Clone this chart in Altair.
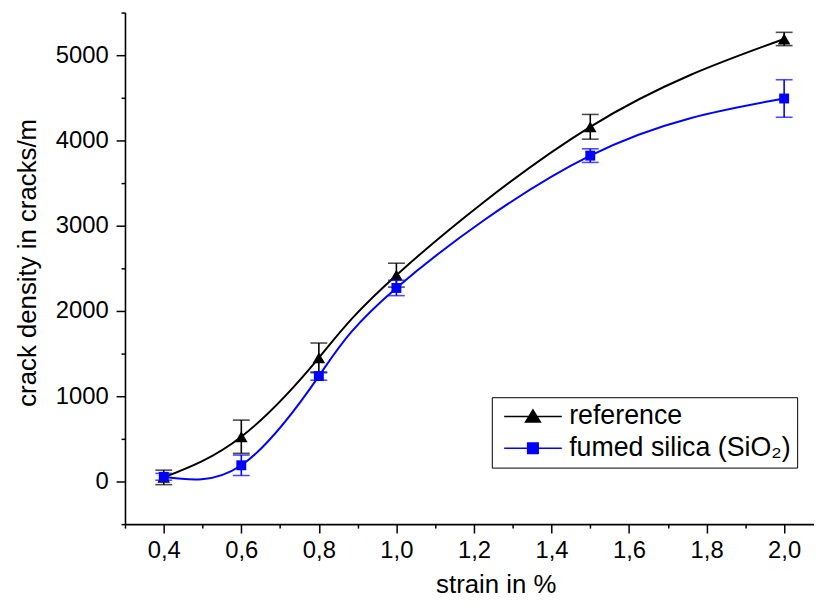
import altair as alt
import pandas as pd

# ---- data ----
strain = [0.4, 0.6, 0.8, 1.0, 1.5, 2.0]
reference = [48, 525, 1450, 2420, 4160, 5190]
reference_err = [85, 195, 174, 140, 145, 78]
silica = [55, 190, 1236, 2270, 3822, 4492]
silica_err = [40, 120, 48, 90, 80, 220]

series_names = ["reference", "fumed silica (SiO₂)"]
series_colors = ["#000000", "#0000ff"]
series_shapes = ["triangle-up", "square"]
series_sizes = [160, 100]

x_major = [0.4, 0.6, 0.8, 1.0, 1.2, 1.4, 1.6, 1.8, 2.0]
x_minor = [0.3, 0.5, 0.7, 0.9, 1.1, 1.3, 1.5, 1.7, 1.9]
y_major = [0, 1000, 2000, 3000, 4000, 5000]
y_minor = [-500, 500, 1500, 2500, 3500, 4500, 5500]

# legend symbols: a line with the marker on it
legend_paths = [
    "M-1,0H7.3M2.07,0.8L3.14,-0.95L4.21,0.8Z",
    "M-1,0H7.3M2.38,-0.76H3.9V0.76H2.38Z",
]

rows = []
for name, vals, errs in [(series_names[0], reference, reference_err),
                         (series_names[1], silica, silica_err)]:
    for s, v, e in zip(strain, vals, errs):
        rows.append({"strain": s, "value": v, "lo": v - e, "hi": v + e, "series": name})
df = pd.DataFrame(rows)

FONT = "Liberation Sans"
x_scale = alt.Scale(domain=[0.3, 2.077], nice=False, zero=False)
y_scale = alt.Scale(domain=[-500, 5500], nice=False, zero=False)

x_axis_main = alt.Axis(values=x_major, format=".1f",
                       labelExpr="replace(datum.label, '.', ',')",
                       tickSize=9, labelPadding=6, title="strain in %",
                       titlePadding=9, titleX=374, orient="bottom", labelFlush=False)
y_axis_main = alt.Axis(values=y_major, format="d", tickSize=9, labelPadding=8,
                       title="crack density in cracks/m", titlePadding=15,
                       titleY=252, orient="left", labelFlush=False)
x_axis_minor = alt.Axis(values=x_minor, labels=False, tickSize=4, domain=False,
                        title=None, orient="bottom")
y_axis_minor = alt.Axis(values=y_minor, labels=False, tickSize=4, domain=False,
                        title=None, orient="left")

layers = []
for i, name in enumerate(series_names):
    d = df[df["series"] == name]
    c = series_colors[i]
    first = i == 0
    line = alt.Chart(d).mark_line(interpolate="natural", color=c, strokeWidth=2).encode(
        x=alt.X("strain:Q", scale=x_scale, axis=x_axis_main if first else None),
        y=alt.Y("value:Q", scale=y_scale, axis=y_axis_main if first else None),
    )
    err = alt.Chart(d).mark_errorbar(ticks=True, size=17, thickness=1.6, color=c).encode(
        x=alt.X("strain:Q", scale=x_scale, axis=None),
        y=alt.Y("lo:Q", scale=y_scale, axis=None),
        y2="hi:Q",
    )
    pts = alt.Chart(d).mark_point(filled=True, opacity=1, color=c,
                                  shape=series_shapes[i], size=series_sizes[i]).encode(
        x=alt.X("strain:Q", scale=x_scale, axis=None),
        y=alt.Y("value:Q", scale=y_scale, axis=None),
    )
    layers += [line, err, pts]

legend = alt.Legend(orient="none", legendX=370, legendY=388, title=None,
                    strokeColor="black", fillColor="white", padding=6,
                    labelFont=FONT, labelFontSize=27, labelColor="black",
                    labelOffset=45, symbolSize=196, symbolStrokeWidth=1.5,
                    symbolOpacity=1, rowPadding=4, labelLimit=400)

legend_layer = alt.Chart(df).mark_point(filled=True, opacity=0).encode(
    x=alt.X("strain:Q", scale=x_scale, axis=x_axis_minor),
    y=alt.Y("value:Q", scale=y_scale, axis=y_axis_minor),
    fill=alt.Fill("series:N", scale=alt.Scale(domain=series_names, range=series_colors), legend=legend),
    stroke=alt.Stroke("series:N", scale=alt.Scale(domain=series_names, range=series_colors), legend=legend),
    shape=alt.Shape("series:N", scale=alt.Scale(domain=series_names, range=legend_paths), legend=legend),
)

chart = alt.layer(*layers, legend_layer).resolve_axis(
    x="independent", y="independent"
).properties(
    width=695, height=516,
    padding={"left": 118, "top": 2, "right": 0, "bottom": 80},
    autosize="none",
).configure_axis(
    domainColor="black", domainWidth=1.6, tickColor="black", tickWidth=1.5,
    labelColor="black", titleColor="black", labelFont=FONT, titleFont=FONT,
    labelFontSize=24, titleFontSize=26, titleFontWeight="normal", grid=False,
).configure_view(stroke=None)

chart.save("out.html", embed_options={"renderer": "svg", "actions": False})
